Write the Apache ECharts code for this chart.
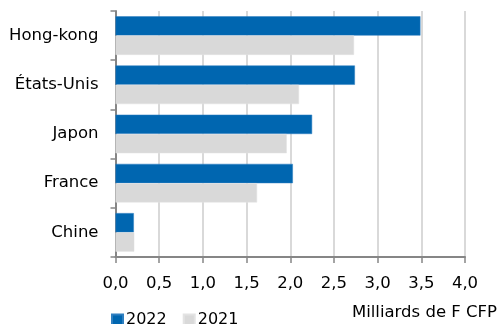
<!DOCTYPE html>
<html><head><meta charset="utf-8">
<script src="https://cdn.jsdelivr.net/npm/echarts@6/dist/echarts.min.js"></script>
<style>html,body{margin:0;padding:0;background:#fff}#c{width:498px;height:324px}</style>
</head><body><div id="c"></div>
<script>
const categories = ['Hong-kong', 'États-Unis', 'Japon', 'France', 'Chine'];
const values2022 = [3.49, 2.74, 2.25, 2.03, 0.21];
const values2021 = [2.73, 2.10, 1.96, 1.62, 0.215];
const xTicks = ['0,0','0,5','1,0','1,5','2,0','2,5','3,0','3,5','4,0'];
const unitLabel = 'Milliards de F CFP';

const font = 'DejaVu Sans';
const chart = echarts.init(document.getElementById('c'), null, {renderer: 'canvas'});
chart.setOption({
  animation: false,
  textStyle: {fontFamily: font},
  grid: {left: 115.5, right: 33, top: 11, bottom: 67, containLabel: false},
  legend: {
    data: ['2022', '2021'],
    left: 106, top: 307,
    icon: 'rect', itemWidth: 11, itemHeight: 11, itemGap: 16,
    textStyle: {fontFamily: font, fontSize: 16, color: '#000', padding: [0,0,0,-2]}
  },
  xAxis: {
    type: 'value', min: 0, max: 4, interval: 0.5,
    axisLine: {show: true, lineStyle: {color: '#868686', width: 2}},
    axisTick: {show: true, length: 6, lineStyle: {color: '#868686', width: 1.5}},
    splitLine: {show: true, lineStyle: {color: '#d9d9d9', width: 2}},
    axisLabel: {
      margin: 8, padding: [10, 0, 0, 0], fontFamily: font, fontSize: 16.5, color: '#000',
      formatter: (v) => xTicks[Math.round(v / 0.5)]
    }
  },
  yAxis: {
    type: 'category', data: categories, inverse: true,
    axisLine: {show: true, lineStyle: {color: '#868686', width: 2}},
    axisTick: {show: true, length: 5, lineStyle: {color: '#868686', width: 1.5}},
    axisLabel: {margin: 17, fontFamily: font, fontSize: 16.5, color: '#000'}
  },
  graphic: [{
    type: 'text', right: 1, top: 304,
    style: {text: unitLabel, fontFamily: font, fontSize: 16.5, fill: '#000'}
  }],
  series: [
    {name: '2022', type: 'bar', data: values2022, barGap: '0%', barCategoryGap: '21.5%',
     itemStyle: {color: '#0066b0', borderColor: '#2f7fc0', borderWidth: 0.5}},
    {name: '2021', type: 'bar', data: values2021, barGap: '0%', barCategoryGap: '21.5%',
     itemStyle: {color: '#d9d9d9', borderColor: '#e3e3e3', borderWidth: 0.5}}
  ]
});
</script></body></html>
